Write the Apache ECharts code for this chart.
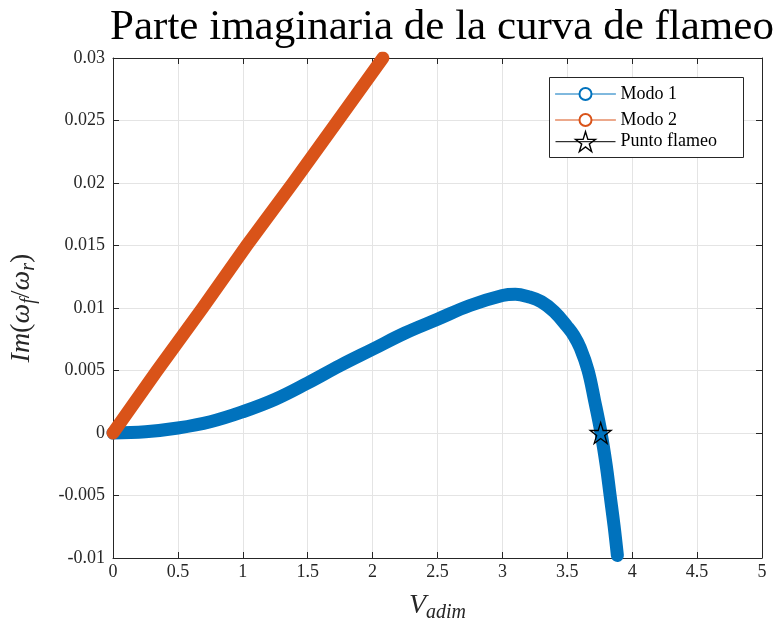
<!DOCTYPE html>
<html>
<head>
<meta charset="utf-8">
<script src="https://cdn.jsdelivr.net/npm/echarts@6/dist/echarts.min.js"></script>
<style>html,body{margin:0;padding:0;background:#fff;}#c{width:777px;height:628px;}</style>
</head>
<body>
<div id="c"></div>
<script>
// ---- data ----
const xTicks = [0, 0.5, 1, 1.5, 2, 2.5, 3, 3.5, 4, 4.5, 5];
const yTicks = [-0.01, -0.005, 0, 0.005, 0.01, 0.015, 0.02, 0.025, 0.03];

const mode1V  = [0, 0.25, 0.5, 0.75, 1.0, 1.25, 1.5, 1.75, 2.0, 2.25, 2.5, 2.75, 3.0, 3.1, 3.2, 3.3, 3.4, 3.5, 3.55, 3.6, 3.66, 3.71, 3.76, 3.8, 3.83, 3.86, 3.886];
const mode1Im = [0, 0.0001, 0.0004, 0.0009, 0.0017, 0.0027, 0.0040, 0.0054, 0.0067, 0.0080, 0.0091, 0.0102, 0.0110, 0.0111, 0.0109, 0.0105, 0.0097, 0.0085, 0.0078, 0.0068, 0.0050, 0.0026, 0.0000, -0.0026, -0.0050, -0.0074, -0.0098];

const mode2V  = [0, 0.34, 0.69, 1.03, 1.386, 1.733, 2.079];
const mode2Im = [0, 0.005, 0.010, 0.015, 0.020, 0.025, 0.030];

const flutterV = [3.757];
const flutterIm = [0];

const seriesNames = ['Modo 1', 'Modo 2', 'Punto flameo'];
const titleText = 'Parte imaginaria de la curva de flameo';

// ---- build ----
const zip = (a, b) => a.map((v, i) => [v, b[i]]);
const BLUE = '#0072BD', ORANGE = '#D95319', AX = '#262626', GRID = '#e4e4e4';
const SERIF = '"Liberation Serif", "DejaVu Serif", serif';
const STAR = 'path://M50,2 L61.2,36.6 L97.6,36.6 L68.2,58 L79.4,92.6 L50,71.2 L20.6,92.6 L31.8,58 L2.4,36.6 L38.8,36.6 Z';

const fmt = v => String(+v.toFixed(3));

const chart = echarts.init(document.getElementById('c'), null, {renderer: 'canvas'});

const baseAxis = {
  type: 'value',
  axisLine: {show: true, onZero: false, lineStyle: {color: AX, width: 1}},
  axisTick: {show: true, inside: true, length: 6, lineStyle: {color: AX, width: 1}},
  splitLine: {show: false},
  axisLabel: {color: AX, fontFamily: SERIF, fontSize: 18, formatter: fmt}
};

const richName = {
  m: {fontFamily: SERIF, fontStyle: 'italic', fontSize: 28, lineHeight: 34, color: AX, verticalAlign: 'middle'},
  p: {fontFamily: SERIF, fontSize: 28, lineHeight: 34, color: AX, verticalAlign: 'middle'},
  s: {fontFamily: SERIF, fontStyle: 'italic', fontSize: 20, lineHeight: 17, color: AX, verticalAlign: 'bottom'}
};

const legendBase = {
  orient: 'vertical', left: 555, itemWidth: 60, padding: 0,
  textStyle: {fontFamily: SERIF, fontSize: 18, color: '#000'},
  lineStyle: {width: 1},
  itemStyle: {borderWidth: 1.4},
  z: 6
};

chart.setOption({
  animation: false,
  backgroundColor: '#fff',
  title: {
    text: titleText,
    left: 437, top: 1, textAlign: 'center',
    textStyle: {fontFamily: SERIF, fontSize: 43, fontWeight: 'normal', color: '#000'}
  },
  grid: {left: 111, right: 15, top: 58, bottom: 67, containLabel: false},
  graphic: [{
    type: 'rect', left: 549, top: 77, z: 5,
    shape: {width: 194, height: 80},
    style: {fill: '#fff', stroke: AX, lineWidth: 1}
  }],
  xAxis: [
    Object.assign({}, baseAxis, {
      position: 'bottom', min: xTicks[0], max: xTicks[xTicks.length - 1], interval: 0.5,
      splitLine: {show: true, lineStyle: {color: GRID, width: 1}},
      axisLabel: Object.assign({}, baseAxis.axisLabel, {margin: 5}),
      name: '{m|V}{s|adim}', nameLocation: 'middle', nameGap: 31,
      nameTextStyle: {rich: richName}
    }),
    Object.assign({}, baseAxis, {
      position: 'top', min: xTicks[0], max: xTicks[xTicks.length - 1], interval: 0.5,
      axisLabel: {show: false}
    })
  ],
  yAxis: [
    Object.assign({}, baseAxis, {
      position: 'left', min: yTicks[0], max: yTicks[yTicks.length - 1], interval: 0.005,
      splitLine: {show: true, lineStyle: {color: GRID, width: 1}},
      axisLabel: Object.assign({}, baseAxis.axisLabel, {margin: 8}),
      name: '{m|Im}{p|(}{m|ω}{s|f}{p|/}{m|ω}{s|r}{p|)}', nameLocation: 'middle', nameGap: 74, nameRotate: 90,
      nameTextStyle: {rich: richName}
    }),
    Object.assign({}, baseAxis, {
      position: 'right', min: yTicks[0], max: yTicks[yTicks.length - 1], interval: 0.005,
      axisLabel: {show: false}
    })
  ],
  legend: [
    Object.assign({}, legendBase, {top: 85, itemHeight: 15, itemGap: 8, data: seriesNames.slice(0, 2)}),
    Object.assign({}, legendBase, {top: 131, itemHeight: 25, itemGap: 0, data: seriesNames.slice(2)})
  ],
  series: [
    {
      name: seriesNames[0], type: 'line', data: zip(mode1V, mode1Im),
      smooth: 0.4,
      symbol: 'emptyCircle', symbolSize: 12, showSymbol: false,
      color: BLUE,
      lineStyle: {color: BLUE, width: 13, cap: 'round', join: 'round'},
      z: 2
    },
    {
      name: seriesNames[1], type: 'line', data: zip(mode2V, mode2Im),
      symbol: 'emptyCircle', symbolSize: 12, showSymbol: false,
      color: ORANGE,
      lineStyle: {color: ORANGE, width: 13, cap: 'round', join: 'round'},
      z: 3
    },
    {
      name: seriesNames[2], type: 'line', data: zip(flutterV, flutterIm),
      symbol: STAR, symbolSize: 21, showSymbol: true,
      color: '#000',
      itemStyle: {color: 'rgba(0,0,0,0)', borderColor: '#000', borderWidth: 1.3},
      lineStyle: {color: '#000', width: 1},
      z: 5
    }
  ]
});
</script>
</body>
</html>
